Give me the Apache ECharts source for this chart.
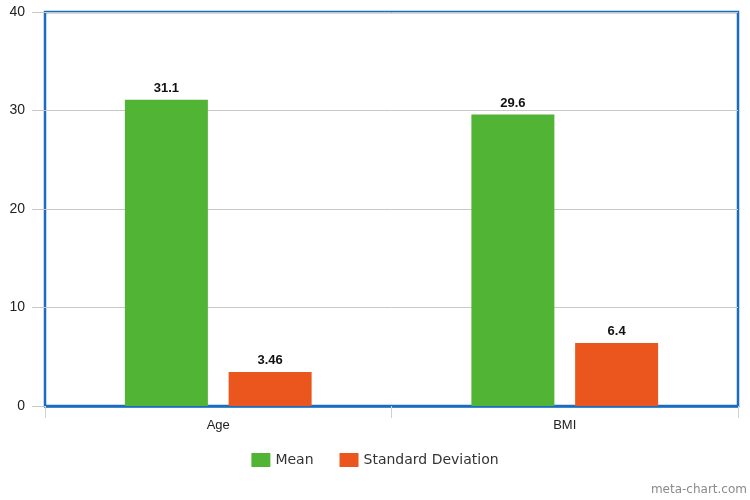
<!DOCTYPE html>
<html>
<head>
<meta charset="utf-8">
<script src="https://cdn.jsdelivr.net/npm/echarts@6/dist/echarts.min.js"></script>
<style>html,body{margin:0;padding:0;background:#fff;}#c{width:750px;height:500px;}</style>
</head>
<body>
<div id="c"></div>
<script>
var categories = ['Age', 'BMI'];
var meanValues = [31.1, 29.6];
var sdValues = [3.46, 6.4];
var seriesNames = ['Mean', 'Standard Deviation'];
var yTicks = [0, 10, 20, 30, 40];

var chart = echarts.init(document.getElementById('c'), null, {renderer: 'canvas'});
var labelStyle = {show: true, position: 'top', color: '#111', fontWeight: 'bold', fontSize: 13, fontFamily: 'Liberation Sans, Arial', distance: 5};
chart.setOption({
  animation: false,
  backgroundColor: '#fff',
  graphic: [{type: 'text', right: 3, bottom: 4, style: {text: 'meta-chart.com', fill: '#8a8a8a', font: '12px "DejaVu Sans"'}}],
  legend: {
    bottom: 28, left: 'center', itemWidth: 19, itemHeight: 14, itemGap: 26,
    icon: 'rect',
    textStyle: {fontSize: 14, color: '#333', fontFamily: 'DejaVu Sans'},
    data: seriesNames
  },
  grid: {left: 45, right: 12, top: 12, bottom: 94, show: true, borderColor: '#1a6cc0', borderWidth: 2.5, containLabel: false},
  xAxis: {
    type: 'category', data: categories,
    axisLine: {show: true, lineStyle: {color: '#1a6cc0', width: 2.5}},
    axisTick: {show: true, length: 12, lineStyle: {color: '#c8d4e0'}},
    axisLabel: {color: '#222', fontSize: 13, fontFamily: 'Liberation Sans, Arial', margin: 13}
  },
  yAxis: {
    type: 'value', min: yTicks[0], max: yTicks[yTicks.length - 1], interval: 10,
    axisLine: {show: false},
    axisTick: {show: true, length: 13, lineStyle: {color: '#c8c8c8'}},
    axisLabel: {color: '#222', fontSize: 14, fontFamily: 'Liberation Sans, Arial', margin: 20},
    splitLine: {lineStyle: {color: '#c8c8c8'}}
  },
  series: [
    {name: seriesNames[0], type: 'bar', data: meanValues, barWidth: 83, barGap: '25%', itemStyle: {color: '#52b435'}, label: labelStyle},
    {name: seriesNames[1], type: 'bar', data: sdValues, barWidth: 83, itemStyle: {color: '#ea561e'}, label: labelStyle}
  ]
});
</script>
</body>
</html>
